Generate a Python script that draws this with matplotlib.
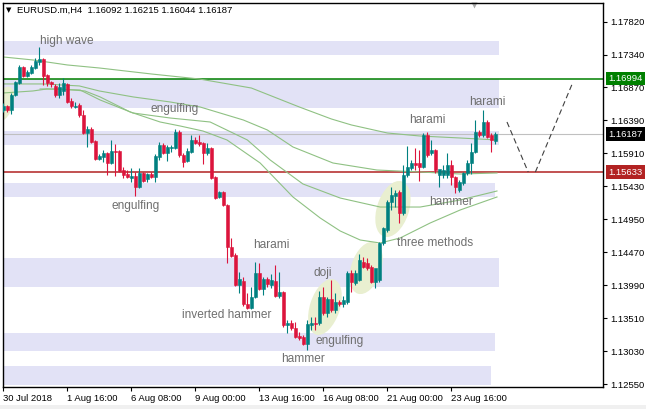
import matplotlib
matplotlib.use('Agg')
import matplotlib.pyplot as plt
import matplotlib.transforms as mtransforms
from matplotlib.patches import Ellipse, Rectangle

plt.rcParams['font.family'] = ['Liberation Sans', 'DejaVu Sans']

# EURUSD.m H4, bar 0 = 30 Jul 2018 00:00
opens = [1.16537, 1.16595, 1.16537, 1.16755, 1.16929, 1.17162, 1.17031, 1.17074, 1.17147, 1.17234,
         1.17278, 1.17045, 1.16944, 1.16886, 1.16755, 1.16813, 1.16915, 1.16667, 1.16580, 1.16609,
         1.16464, 1.16202, 1.16260, 1.16086, 1.15824, 1.15853, 1.15911, 1.15766, 1.15941, 1.15941,
         1.15664, 1.15606, 1.15548, 1.15577, 1.15417, 1.15621, 1.15533, 1.15606, 1.15563, 1.15853,
         1.16028, 1.15911, 1.15984, 1.15984, 1.16217, 1.15882, 1.15795, 1.15926, 1.16101, 1.16071,
         1.16057, 1.15911, 1.15984, 1.15563, 1.15272, 1.15344, 1.15155, 1.14545, 1.14429, 1.13993,
         1.14051, 1.13717, 1.13659, 1.13819, 1.14167, 1.13935, 1.14080, 1.13993, 1.14051, 1.13833,
         1.13891, 1.13412, 1.13441, 1.13368, 1.13252, 1.13237, 1.13136, 1.13412, 1.13441, 1.13441,
         1.13819, 1.13586, 1.13790, 1.13630, 1.13746, 1.13717, 1.13746, 1.14167, 1.14022, 1.14066,
         1.14327, 1.14313, 1.14255, 1.14036, 1.14066, 1.14603, 1.14792, 1.15199, 1.15286, 1.15344,
         1.15039, 1.15592, 1.15693, 1.15766, 1.15766, 1.15708, 1.16173, 1.15911, 1.15955, 1.15592,
         1.15592, 1.15592, 1.15737, 1.15563, 1.15373, 1.15475, 1.15621, 1.15766, 1.15926, 1.16217,
         1.16173, 1.16362, 1.16173, 1.16092]
highs = [1.16638, 1.16609, 1.16784, 1.16958, 1.17191, 1.17176, 1.17118, 1.17191, 1.17292, 1.17452,
         1.17292, 1.17060, 1.16958, 1.16915, 1.16929, 1.17002, 1.16929, 1.16711, 1.16653, 1.16638,
         1.16537, 1.16304, 1.16289, 1.16101, 1.15897, 1.15955, 1.15926, 1.16101, 1.16042, 1.15955,
         1.15708, 1.15664, 1.15693, 1.15635, 1.15693, 1.15635, 1.15621, 1.15635, 1.15897, 1.16071,
         1.16057, 1.16028, 1.16028, 1.16260, 1.16246, 1.15911, 1.15984, 1.16173, 1.16144, 1.16173,
         1.16071, 1.16057, 1.15999, 1.15577, 1.15359, 1.15359, 1.15170, 1.14676, 1.14458, 1.14182,
         1.14109, 1.13877, 1.13964, 1.14327, 1.14313, 1.14109, 1.14109, 1.14153, 1.14284, 1.14182,
         1.13906, 1.13484, 1.13484, 1.13455, 1.13310, 1.13266, 1.13484, 1.13528, 1.13528, 1.13906,
         1.13964, 1.13819, 1.14066, 1.13877, 1.13775, 1.13833, 1.14196, 1.14211, 1.14211, 1.14443,
         1.14400, 1.14385, 1.14284, 1.14211, 1.14618, 1.14836, 1.15228, 1.15417, 1.15373, 1.15373,
         1.15737, 1.16013, 1.15810, 1.15984, 1.15955, 1.16202, 1.16217, 1.16101, 1.15970, 1.15664,
         1.15737, 1.15911, 1.15810, 1.15577, 1.15519, 1.15635, 1.15810, 1.16057, 1.16391, 1.16246,
         1.16537, 1.16391, 1.16202, 1.16215]
lows = [1.16508, 1.16508, 1.16479, 1.16740, 1.16915, 1.17016, 1.17016, 1.17060, 1.17132, 1.17191,
        1.16900, 1.16886, 1.16871, 1.16726, 1.16711, 1.16755, 1.16638, 1.16566, 1.16566, 1.16435,
        1.16188, 1.15999, 1.16057, 1.15810, 1.15810, 1.15781, 1.15592, 1.15751, 1.15577, 1.15635,
        1.15548, 1.15548, 1.15490, 1.15286, 1.15402, 1.15490, 1.15490, 1.15548, 1.15490, 1.15810,
        1.15897, 1.15795, 1.15926, 1.15970, 1.15853, 1.15708, 1.15781, 1.15911, 1.16042, 1.16013,
        1.15751, 1.15882, 1.15533, 1.15243, 1.15257, 1.15141, 1.14313, 1.14400, 1.13978, 1.13877,
        1.13688, 1.13644, 1.13644, 1.13804, 1.13920, 1.13848, 1.13964, 1.13949, 1.13819, 1.13804,
        1.13383, 1.13295, 1.13339, 1.13223, 1.13194, 1.13121, 1.13048, 1.13339, 1.13339, 1.13412,
        1.13557, 1.13528, 1.13601, 1.13586, 1.13688, 1.13673, 1.13717, 1.13891, 1.13993, 1.14051,
        1.14240, 1.14211, 1.14022, 1.13949, 1.14036, 1.14574, 1.14763, 1.15083, 1.15126, 1.14894,
        1.15010, 1.15563, 1.15664, 1.15664, 1.15504, 1.15693, 1.15853, 1.15882, 1.15621, 1.15417,
        1.15548, 1.15548, 1.15446, 1.15330, 1.15344, 1.15446, 1.15592, 1.15606, 1.15911, 1.16144,
        1.16144, 1.16130, 1.15926, 1.16044]
closes = [1.16595, 1.16537, 1.16755, 1.16944, 1.17162, 1.17031, 1.17089, 1.17162, 1.17249, 1.17278,
          1.17031, 1.16929, 1.16915, 1.16755, 1.16871, 1.16929, 1.16653, 1.16595, 1.16595, 1.16464,
          1.16202, 1.16260, 1.16071, 1.15824, 1.15868, 1.15911, 1.15766, 1.15941, 1.15926, 1.15650,
          1.15592, 1.15563, 1.15577, 1.15417, 1.15621, 1.15504, 1.15606, 1.15563, 1.15868, 1.16028,
          1.15911, 1.15999, 1.15999, 1.16217, 1.15882, 1.15781, 1.15941, 1.16101, 1.16057, 1.16042,
          1.15911, 1.15984, 1.15548, 1.15257, 1.15344, 1.15155, 1.14545, 1.14414, 1.13993, 1.14080,
          1.13717, 1.13659, 1.13819, 1.14167, 1.13935, 1.14080, 1.14007, 1.14066, 1.13833, 1.13891,
          1.13412, 1.13441, 1.13368, 1.13237, 1.13223, 1.13136, 1.13426, 1.13441, 1.13426, 1.13819,
          1.13586, 1.13790, 1.13630, 1.13746, 1.13717, 1.13775, 1.14167, 1.14036, 1.14167, 1.14356,
          1.14255, 1.14240, 1.14036, 1.14240, 1.14603, 1.14821, 1.15199, 1.15301, 1.15330, 1.15039,
          1.15592, 1.15708, 1.15766, 1.15737, 1.15708, 1.16173, 1.15882, 1.15955, 1.15664, 1.15679,
          1.15664, 1.15737, 1.15563, 1.15417, 1.15490, 1.15621, 1.15766, 1.15926, 1.16217, 1.16173,
          1.16362, 1.16144, 1.16101, 1.16187]

tick_bars = [0, 16, 32, 48, 64, 80, 96, 112]
tick_labels = ['30 Jul 2018', '1 Aug 16:00', '6 Aug 08:00', '9 Aug 00:00',
               '13 Aug 16:00', '16 Aug 08:00', '21 Aug 00:00', '23 Aug 16:00']
price_ticks = [1.17820, 1.17340, 1.16870, 1.16390, 1.15910, 1.15430,
               1.14950, 1.14470, 1.13990, 1.13510, 1.13030, 1.12550]

resistance = 1.16994
support = 1.15633
last_price = 1.16187

# supply / demand zones
zone_top = [1.17540, 1.16987, 1.16231, 1.15476, 1.14385, 1.13295, 1.12816]
zone_bottom = [1.17336, 1.16566, 1.16028, 1.15272, 1.13964, 1.13034, 1.12540]
zone_end = [123.9, 123.9, 123.9, 122.9, 123.9, 122.9, 121.9]

# moving averages
ma1_x = [0, 7.5, 16, 24, 37, 49, 62, 74, 82, 87, 96, 104, 114, 123.4]
ma1_y = [1.17307, 1.17263, 1.17191, 1.17147, 1.17060, 1.16987, 1.16856, 1.16580, 1.16406,
         1.16319, 1.16202, 1.16159, 1.16130, 1.16101]
ma2_x = [0, 10, 19, 24, 32.5, 41.7, 49.2, 60, 66, 72.4, 82.4, 93.4, 104.2, 114.2, 123.4]
ma2_y = [1.16915, 1.16915, 1.16886, 1.16813, 1.16726, 1.16653, 1.16580, 1.16391, 1.16246,
         1.15999, 1.15766, 1.15664, 1.15635, 1.15606, 1.15621]
ma3_x = [0, 7.4, 10.9, 19.2, 24.2, 32.4, 41.7, 51.7, 61, 66.7, 74.9, 84.2, 94.2, 104.2, 114.2, 123.4]
ma3_y = [1.16784, 1.16813, 1.16842, 1.16827, 1.16682, 1.16493, 1.16420, 1.16362, 1.16101,
         1.15810, 1.15461, 1.15257, 1.15126, 1.15126, 1.15228, 1.15359]
ma4_x = [9.2, 14.2, 20.4, 24.2, 31.7, 39.2, 44.2, 49.9, 55.9, 64.2, 72.4, 79.2, 84.2, 89.2,
         94.2, 99.2, 106.7, 114.2, 123.4]
ma4_y = [1.16842, 1.16842, 1.16813, 1.16726, 1.16508, 1.16362, 1.16304, 1.16231, 1.16101,
         1.15766, 1.15272, 1.14967, 1.14778, 1.14647, 1.14603, 1.14676, 1.14894, 1.15083, 1.15272]

# candle pattern labels
pattern_text = ['high wave', 'engulfing', 'engulfing', 'harami', 'inverted hammer', 'doji',
                'engulfing', 'hammer', 'harami', 'harami', 'hammer', 'three methods']
pattern_x = [15.8, 42.9, 33.1, 67, 55.9, 79.9, 84.1, 74.9, 105.9, 120.9, 111.9, 107.9]
pattern_y = [1.17540, 1.16551, 1.15141, 1.14574, 1.13557, 1.14167, 1.13179, 1.12918,
             1.16391, 1.16653, 1.15199, 1.14603]

# highlighted candle groups
hl_x = [0.2, 80.4, 90.7, 97.4]
hl_y = [1.16624, 1.13673, 1.14240, 1.15097]

# hand drawn forecast path
path1_x = [125.9, 131.2]
path1_y = [1.16362, 1.15635]
path2_x = [133.0, 142.4]
path2_y = [1.15635, 1.16944]

bull = '#008080'
bear = '#dc143c'

fig = plt.figure(figsize=(6.46, 4.09), dpi=100)
ax = fig.add_axes([2.7 / 646, 22 / 409, 600.3 / 646, 384.3 / 409])
ax.set_xlim(-0.15, 149.9)
ax.set_ylim(1.12510, 1.18096)

for t, b, e in zip(zone_top, zone_bottom, zone_end):
    ax.add_patch(Rectangle((-0.15, b), e + 0.15, t - b, fc='#e2e2f6', ec='none', zorder=0))

for xc, yc, w, h in zip(hl_x, hl_y, [18, 30, 30, 32], [36, 58, 54, 58]):
    tr = fig.dpi_scale_trans + mtransforms.ScaledTranslation(xc, yc, ax.transData)
    ax.add_patch(Ellipse((0, 0), w / 100, h / 100, angle=-18, transform=tr,
                         fc='#e9efd0', ec='none', zorder=1))

ax.axhline(resistance, color='#008000', lw=1.1, zorder=2)
ax.axhline(support, color='#b22222', lw=1.1, zorder=2)
ax.axhline(last_price, color='#c0c0c0', lw=0.8, zorder=2)

for mx, my in [(ma1_x, ma1_y), (ma2_x, ma2_y), (ma3_x, ma3_y), (ma4_x, ma4_y)]:
    ax.plot(mx, my, color='#8fc183', lw=0.8, zorder=2)

for i in range(len(opens)):
    o, h, l, c = opens[i], highs[i], lows[i], closes[i]
    col = bull if c >= o else bear
    ax.vlines(i, l, h, color=col, lw=0.8, zorder=3)
    ax.bar(i, abs(c - o), bottom=min(o, c), width=0.72, color=col, edgecolor=col, lw=0.4, zorder=3)

for s, x, y in zip(pattern_text, pattern_x, pattern_y):
    ax.text(x, y, s, ha='center', va='center', fontsize=8.6, color='#6f6f6f', zorder=4)

ax.plot(path1_x, path1_y, color='#404040', lw=0.8, ls=(0, (5, 3)), zorder=4)
ax.plot(path2_x, path2_y, color='#404040', lw=0.8, ls=(0, (5, 3)), zorder=4)

# axes styling
for side in ['left', 'top', 'right', 'bottom']:
    ax.spines[side].set_color('black')
    ax.spines[side].set_linewidth(1.0)
ax.yaxis.tick_right()
ax.set_yticks(price_ticks)
ax.set_yticklabels([f'{p:.5f}' for p in price_ticks])
ax.set_xticks(tick_bars)
ax.set_xticklabels(tick_labels, ha='left')
ax.tick_params(axis='y', direction='out', length=3, width=0.8, pad=2, labelsize=6.8)
ax.tick_params(axis='x', direction='out', length=3, width=0.8, pad=2, labelsize=6.8)

for price, col in [(resistance, '#008000'), (last_price, '#000000'), (support, '#b22222')]:
    ax.annotate(f'{price:.5f}', xy=(1, price), xycoords=('axes fraction', 'data'),
                xytext=(4, 0), textcoords='offset points', ha='left', va='center',
                fontsize=6.8, color='white', annotation_clip=False, zorder=5,
                bbox=dict(boxstyle='square,pad=0.25', fc=col, ec='none'))

ax.plot([117.7], [0.994], marker='v', ms=5, color='#a8a8a8', mec='none',
        transform=ax.get_xaxis_transform(), clip_on=False)

fig.text(9 / 646, 1 - 10 / 409, '\u25bc', fontsize=5, color='black', ha='center', va='center',
         family='DejaVu Sans')
fig.text(17 / 646, 1 - 10 / 409, 'EURUSD.m,H4  1.16092 1.16215 1.16044 1.16187',
         fontsize=6.8, color='black', ha='left', va='center')
fig.patches.append(Rectangle((0, 0), 1, 4 / 409, transform=fig.transFigure,
                             fc='#f0f0f0', ec='none'))

fig.savefig('out.png', dpi=100)
